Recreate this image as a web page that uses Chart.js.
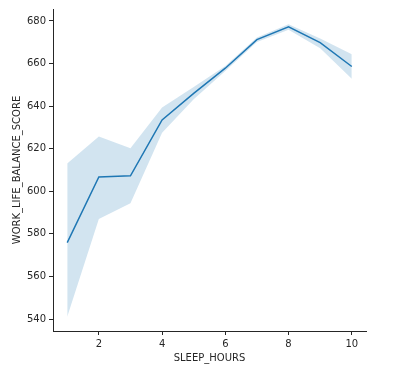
<!DOCTYPE html>
<html>
<head>
<meta charset="utf-8">
<script src="https://cdn.jsdelivr.net/npm/chart.js@4/dist/chart.umd.min.js"></script>
<style>
  html, body { margin: 0; padding: 0; background: #fff; }
  #wrap { width: 407px; height: 376px; }
</style>
</head>
<body>
<div id="wrap"><canvas id="plot" width="407" height="376"></canvas></div>
<script>
'use strict';

// Hours of sleep, mean score and the confidence band around it
const sleepHours = [1, 2, 3, 4, 5, 6, 7, 8, 9, 10];
const meanScore  = [575.9, 606.7, 607.3, 633.5, 646.0, 657.8, 671.2, 677.2, 669.8, 658.6];
const upperBand  = [613.1, 625.7, 620.2, 639.3, 649.0, 658.8, 672.2, 678.4, 671.8, 664.4];
const lowerBand  = [541.1, 587.0, 594.4, 627.5, 643.2, 656.5, 670.1, 675.9, 667.2, 652.9];

const xTicks = [2, 4, 6, 8, 10];
const yTicks = [540, 560, 580, 600, 620, 640, 660, 680];

const BLUE = '#1f77b4';
const TEXT = '#262626';

function points(values) {
    return sleepHours.map((h, i) => ({ x: h, y: values[i] }));
}

const data = {
    datasets: [
        {
            label: 'upper',
            data: points(upperBand),
            borderWidth: 0,
            pointRadius: 0,
            fill: false
        },
        {
            label: 'lower',
            data: points(lowerBand),
            borderWidth: 0,
            pointRadius: 0,
            backgroundColor: 'rgba(31,119,180,0.2)',
            fill: '-1'
        },
        {
            label: 'mean',
            data: points(meanScore),
            borderColor: BLUE,
            borderWidth: 1.5,
            pointRadius: 0,
            fill: false
        }
    ]
};

const tickFont = { family: 'DejaVu Sans', size: 10 };

const config = {
    type: 'line',
    data: data,
    options: {
        responsive: false,
        animation: false,
        layout: { padding: { top: 9, right: 41, left: 0, bottom: 0 } },
        plugins: {
            legend: { display: false },
            tooltip: { enabled: false }
        },
        scales: {
            x: {
                type: 'linear',
                min: 0.55,
                max: 10.45,
                afterBuildTicks: (s) => { s.ticks = xTicks.map(v => ({ value: v })); },
                afterFit: (s) => { s.height = 45; },
                grid: { display: true, drawOnChartArea: false, tickLength: 4, color: TEXT },
                border: { display: true, color: TEXT, width: 1 },
                ticks: { color: TEXT, font: tickFont, padding: 3, maxRotation: 0 },
                title: {
                    display: true, text: 'SLEEP_HOURS', color: TEXT,
                    font: tickFont, padding: { top: 0, bottom: 12 }
                }
            },
            y: {
                min: 534.4,
                max: 685.6,
                afterBuildTicks: (s) => { s.ticks = yTicks.map(v => ({ value: v })); },
                afterFit: (s) => { s.width = 53; },
                grid: { display: true, drawOnChartArea: false, tickLength: 4, color: TEXT },
                border: { display: true, color: TEXT, width: 1 },
                ticks: { color: TEXT, font: tickFont, padding: 3 },
                title: {
                    display: true, text: 'WORK_LIFE_BALANCE_SCORE', color: TEXT,
                    font: tickFont, padding: { top: 11, bottom: 0 }
                }
            }
        }
    }
};

new Chart(document.getElementById('plot'), config);
</script>
</body>
</html>
